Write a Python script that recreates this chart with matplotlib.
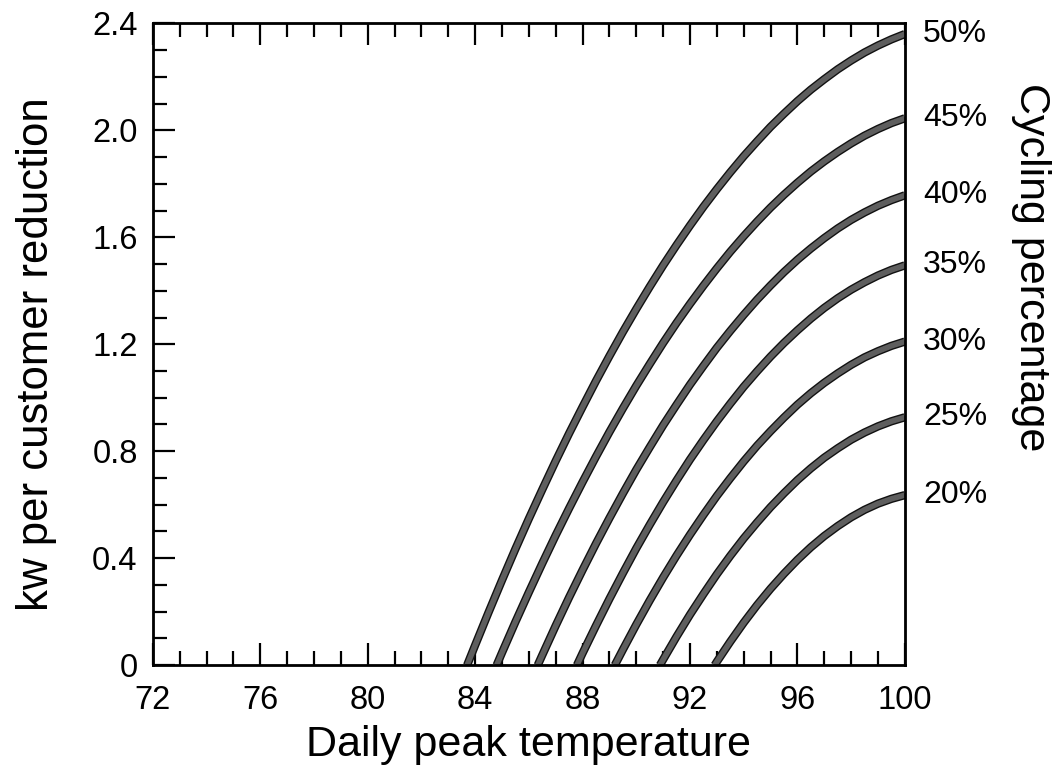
import matplotlib
matplotlib.use("Agg")
import numpy as np
import matplotlib.pyplot as plt
import matplotlib.patheffects as pe
from matplotlib.ticker import MultipleLocator

plt.rcParams['font.family'] = ['Liberation Sans', 'DejaVu Sans']

# daily peak temperature (x) and kw per customer reduction (y), one pair per cycling curve
# each curve starts where it leaves the zero line, then half-degree readings up to 100
temp_50 = np.r_[83.7, np.arange(84, 100.5, 0.5)]
kw_50 = [0, 0.075, 0.198, 0.318, 0.435, 0.548, 0.657, 0.764, 0.867, 0.966, 1.063,
         1.156, 1.246, 1.332, 1.415, 1.495, 1.571, 1.644, 1.714, 1.780, 1.843,
         1.903, 1.959, 2.013, 2.062, 2.109, 2.152, 2.191, 2.228, 2.261, 2.291,
         2.317, 2.340, 2.360]
temp_45 = np.r_[84.8, np.arange(85, 100.5, 0.5)]
kw_45 = [0, 0.047, 0.162, 0.273, 0.381, 0.486, 0.587, 0.685, 0.780, 0.872, 0.960,
         1.045, 1.126, 1.205, 1.280, 1.351, 1.419, 1.484, 1.546, 1.604, 1.659,
         1.711, 1.759, 1.804, 1.846, 1.884, 1.919, 1.951, 1.980, 2.005, 2.027, 2.045]
temp_40 = np.r_[86.33, np.arange(86.5, 100.5, 0.5)]
kw_40 = [0, 0.038, 0.148, 0.254, 0.356, 0.455, 0.550, 0.642, 0.731, 0.815, 0.897,
         0.974, 1.049, 1.119, 1.187, 1.250, 1.310, 1.367, 1.420, 1.470, 1.516,
         1.558, 1.597, 1.633, 1.665, 1.693, 1.718, 1.739, 1.757]
temp_35 = np.r_[87.79, np.arange(88, 100.5, 0.5)]
kw_35 = [0, 0.045, 0.148, 0.248, 0.344, 0.437, 0.525, 0.610, 0.691, 0.769, 0.842,
         0.912, 0.978, 1.041, 1.099, 1.154, 1.205, 1.252, 1.296, 1.336, 1.372,
         1.404, 1.432, 1.457, 1.478, 1.495]
temp_30 = np.r_[89.2, np.arange(89.5, 100.5, 0.5)]
kw_30 = [0, 0.058, 0.152, 0.242, 0.328, 0.410, 0.488, 0.562, 0.633, 0.699, 0.762,
         0.821, 0.875, 0.926, 0.974, 1.017, 1.056, 1.091, 1.123, 1.151, 1.174,
         1.194, 1.210]
temp_25 = np.r_[90.88, np.arange(91, 100.5, 0.5)]
kw_25 = [0, 0.021, 0.107, 0.189, 0.266, 0.340, 0.409, 0.474, 0.534, 0.591, 0.643,
         0.692, 0.736, 0.776, 0.811, 0.843, 0.870, 0.893, 0.912, 0.927]
temp_20 = np.r_[92.92, np.arange(93, 100.5, 0.5)]
kw_20 = [0, 0.013, 0.088, 0.159, 0.225, 0.286, 0.342, 0.394, 0.441, 0.483, 0.520,
         0.553, 0.581, 0.604, 0.622, 0.636]

cycling = ['50%', '45%', '40%', '35%', '30%', '25%', '20%']
temps = [temp_50, temp_45, temp_40, temp_35, temp_30, temp_25, temp_20]
kws = [kw_50, kw_45, kw_40, kw_35, kw_30, kw_25, kw_20]

x_ticks = [72, 76, 80, 84, 88, 92, 96, 100]
y_ticks = [0, 0.4, 0.8, 1.2, 1.6, 2.0, 2.4]
y_tick_labels = ['0', '0.4', '0.8', '1.2', '1.6', '2.0', '2.4']

fig = plt.figure(figsize=(10.62, 7.78), dpi=100)
ax = fig.add_axes([0.144, 0.145, 0.708, 0.825])

for t, kw, lab in zip(temps, kws, cycling):
    ax.plot(t, kw, color='#5e5e5e', lw=4.0, solid_capstyle='butt',
            solid_joinstyle='round',
            path_effects=[pe.Stroke(linewidth=6.0, foreground='#111111'), pe.Normal()])
    ax.annotate(lab, xy=(100, kw[-1]), xytext=(13, 0), textcoords='offset points',
                fontsize=23, va='center', ha='left', annotation_clip=False)

ax.set_xlim(72, 100)
ax.set_ylim(0, 2.4)
ax.set_xticks(x_ticks)
ax.set_yticks(y_ticks)
ax.set_yticklabels(y_tick_labels)
ax.xaxis.set_minor_locator(MultipleLocator(1))
ax.yaxis.set_minor_locator(MultipleLocator(0.1))

ax.tick_params(axis='x', which='both', direction='in', top=True, bottom=True,
               labelsize=23.5, pad=14, width=1.6)
ax.tick_params(axis='y', which='both', direction='in', left=True, right=False,
               labelsize=23.5, pad=11, width=1.6)
ax.tick_params(which='major', length=16)
ax.tick_params(which='minor', length=10)

for s in ax.spines.values():
    s.set_linewidth(2)

ax.set_xlabel('Daily peak temperature', fontsize=31)
ax.xaxis.set_label_coords(0.5, -0.093)
ax.set_ylabel('kw per customer reduction', fontsize=31.5)
ax.yaxis.set_label_coords(-0.128, 0.485)

ax2 = ax.twinx()
ax2.set_ylim(0, 2.4)
ax2.set_yticks([])
ax2.set_ylabel('Cycling percentage', fontsize=31, rotation=-90)
ax2.yaxis.set_label_coords(1.195, 0.62)

fig.savefig('out.png', dpi=100)
